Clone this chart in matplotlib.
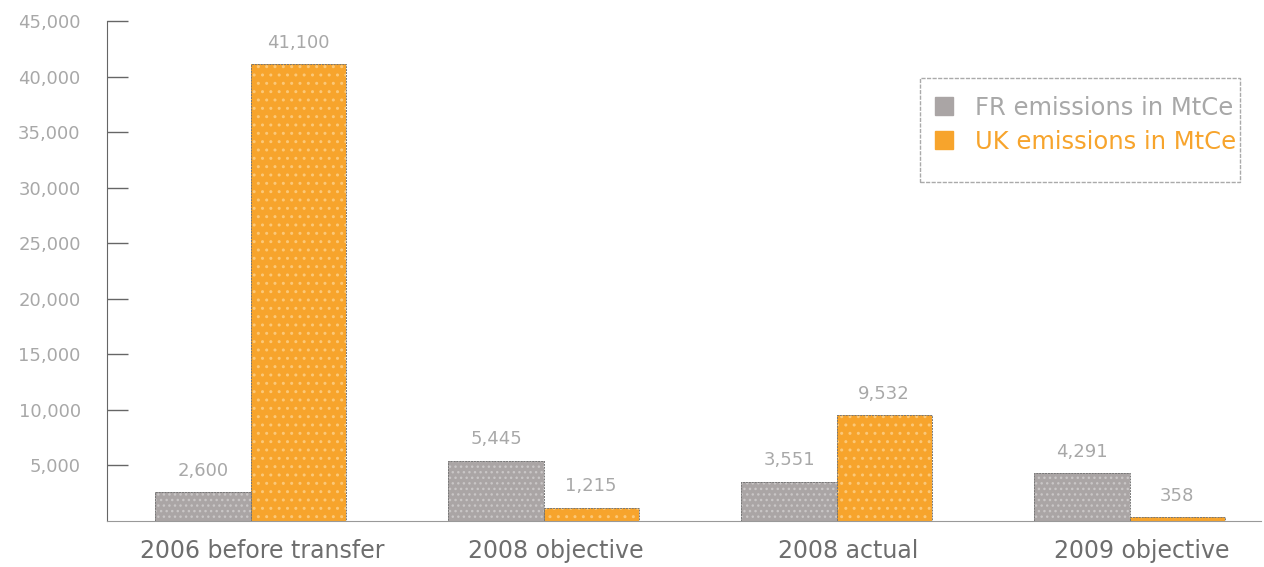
import matplotlib.pyplot as plt
import numpy as np
from matplotlib.lines import Line2D
from matplotlib.patches import Rectangle

# ------------------------
# DATA
# ------------------------
categories = ["2006 before transfer", "2008 objective", "2008 actual", "2009 objective"]
fr_values = [2600, 5445, 3551, 4291]
uk_values = [41100, 1215, 9532, 358]
series_names = ["FR emissions in MtCe", "UK emissions in MtCe"]
y_ticks = [5000, 10000, 15000, 20000, 25000, 30000, 35000, 40000, 45000]

gray = "#aaa5a5"
orange = "#f7a42c"
text_gray = "#a8a8a8"

# ------------------------
# PLOT
# ------------------------
fig = plt.figure(figsize=(12.64, 5.67), dpi=100)
ax = fig.add_axes([0.0847, 0.0811, 0.9133, 0.8819])

x = np.arange(len(categories))
w = 0.325

fr_bars = ax.bar(x - w / 2, fr_values, w, color=gray, edgecolor="#c9c6c6",
                 hatch="...", linewidth=0)
uk_bars = ax.bar(x + w / 2, uk_values, w, color=orange, edgecolor="#fbc878",
                 hatch="..", linewidth=0)

# thin dark outlines like the original
for b in list(fr_bars) + list(uk_bars):
    ax.add_patch(Rectangle(b.get_xy(), b.get_width(), b.get_height(),
                           fill=False, edgecolor="#777777", linewidth=0.7,
                           linestyle=(0, (2, 1))))

for bars, vals in [(fr_bars, fr_values), (uk_bars, uk_values)]:
    for b, v in zip(bars, vals):
        ax.annotate(f"{v:,}", (b.get_x() + b.get_width() / 2, v),
                    xytext=(0, 9), textcoords="offset points",
                    ha="center", va="bottom", fontsize=13, color=text_gray)

ax.set_xlim(-0.49, 3.45)
ax.set_ylim(0, 45000)

ax.set_yticks(y_ticks)
ax.set_yticklabels([f"{t:,}" for t in y_ticks])
ax.set_xticks(x + 0.04)
ax.set_xticklabels(categories)

ax.tick_params(axis="y", direction="in", length=15, width=1, color="#666666",
               labelsize=13, labelcolor=text_gray, pad=19)
ax.tick_params(axis="x", length=0, labelsize=17, labelcolor="#6e6e6e", pad=13)

for s in ["top", "right"]:
    ax.spines[s].set_visible(False)
ax.spines["left"].set_color("#666666")
ax.spines["bottom"].set_color("#999999")
ax.spines["left"].set_linestyle((0, (2, 1)))
ax.spines["bottom"].set_linestyle((0, (2, 1)))

# legend box drawn separately (extra space below the entries)
fig.add_artist(Rectangle((0.728, 0.679), 0.253, 0.183, transform=fig.transFigure,
                         fill=False, edgecolor="#aaaaaa", linewidth=1,
                         linestyle=(0, (3, 1))))

handles = [
    Line2D([], [], marker="s", linestyle="none", markersize=13,
           markerfacecolor=gray, markeredgecolor=gray),
    Line2D([], [], marker="s", linestyle="none", markersize=13,
           markerfacecolor=orange, markeredgecolor=orange),
]
leg = fig.legend(handles, series_names, loc="upper left",
                 bbox_to_anchor=(0.737, 0.831), fontsize=17.5,
                 frameon=False, handlelength=1,
                 handletextpad=0.8, borderpad=0, labelspacing=0.4,
                 borderaxespad=0)
leg.get_texts()[0].set_color(text_gray)
leg.get_texts()[1].set_color(orange)

fig.savefig("out.png", dpi=100)
